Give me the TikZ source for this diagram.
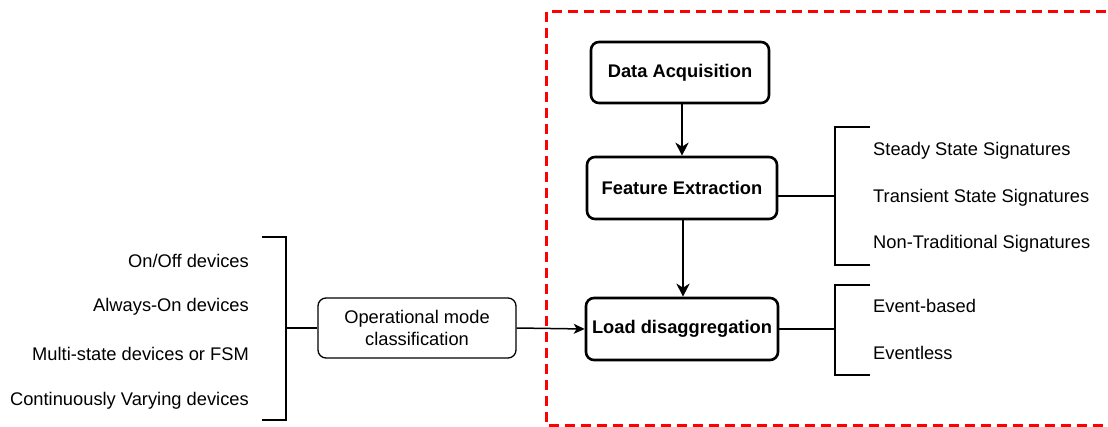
\documentclass[tikz,border=0pt]{standalone}
\usepackage{fontspec}
\setmainfont{Liberation Sans}
\usetikzlibrary{arrows.meta}
\begin{document}
\begin{tikzpicture}[x=1pt,y=-1pt,
  mainbox/.style={draw, line width=2.6pt, rounded corners=8pt, font=\fontsize{18.3}{22}\selectfont\bfseries, inner sep=0pt, align=center},
  ombox/.style={draw, line width=1.3pt, rounded corners=8pt, font=\fontsize{18.3}{22}\selectfont, align=center, inner sep=0pt},
  lbl/.style={font=\fontsize{18.3}{22}\selectfont, inner sep=0pt},
  brk/.style={line width=1.5pt},
  arr/.style={line width=2.8pt, -{Stealth[length=13pt,width=13pt,inset=4pt]}},
  harr/.style={line width=1.5pt, -{Stealth[length=11pt,width=10pt,inset=3pt]}},
  region/.style={draw=red, line width=3pt, dash pattern=on 10pt off 6pt}
]
\useasboundingbox (0,0) rectangle (1108,427);
\clip (0,0) rectangle (1108,427);
\draw[region] (546,12) rectangle (1125,425);

\node[mainbox, minimum width=178pt, minimum height=61pt] (da) at (680,72.5) {Data Acquisition};
\node[mainbox, minimum width=190pt, minimum height=62pt] (fe) at (682,188) {Feature Extraction};
\node[mainbox, minimum width=192pt, minimum height=62pt] (ld) at (682,329) {Load disaggregation};
\node[ombox, minimum width=198pt, minimum height=60pt] (om) at (417,328) {Operational mode\\classification};

\draw[arr] (da.south -| 682,0) -- (fe.north -| 682,0);
\draw[arr] (fe.south -| 683,0) -- (ld.north -| 683,0);
\draw[harr] (om.east) -- (ld.west);

% left bracket
\coordinate (lbt) at (262,237);
\coordinate (lbb) at (262,420);
\coordinate (lbm) at (286,328);
\draw[brk] (lbt) -- (286,237) -- (286,420) -- (lbb);
\draw[brk] (lbm) -- (om.west);
\node[lbl, anchor=east] (l1) at (249,261) {On/Off devices};
\node[lbl, anchor=east] (l2) at (249,307) {Always-On devices};
\node[lbl, anchor=east] (l3) at (249,354) {Multi-state devices or FSM};
\node[lbl, anchor=east] (l4) at (249,401) {Continuously Varying devices};

% feature bracket
\coordinate (fbm) at (835,196);
\draw[brk] (870,127) -- (835,127) -- (835,265) -- (870,265);
\draw[brk] (fe.east |- fbm) -- (fbm);
\node[lbl, anchor=west] (s1) at (873,151) {Steady State Signatures};
\node[lbl, anchor=west] (s2) at (873,198) {Transient State Signatures};
\node[lbl, anchor=west] (s3) at (873,244) {Non-Traditional Signatures};

% load bracket
\coordinate (dbm) at (835,329);
\draw[brk] (870,285) -- (835,285) -- (835,375) -- (870,375);
\draw[brk] (ld.east) -- (dbm);
\node[lbl, anchor=west] (e1) at (873,306) {Event-based};
\node[lbl, anchor=west] (e2) at (873,353) {Eventless};
\end{tikzpicture}
\end{document}
